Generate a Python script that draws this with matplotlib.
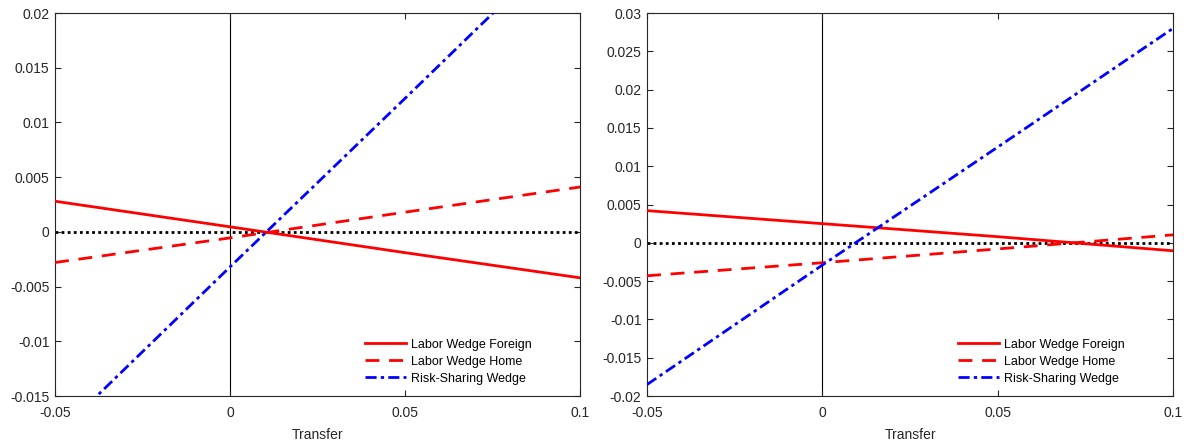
import matplotlib.pyplot as plt
from matplotlib.ticker import FuncFormatter

plt.rcParams['font.family'] = ['Liberation Sans', 'DejaVu Sans']

# transfer grid
transfer = [-0.05, 0.0, 0.05, 0.1]

# left panel
left_foreign = [0.0028, 0.00046, -0.0019, -0.0042]
left_home = [-0.0028, -0.00055, 0.0018, 0.0041]
left_risk = [-0.0187, -0.0032, 0.0122, 0.0277]

# right panel
right_foreign = [0.0042, 0.0025, 0.0008, -0.00104]
right_home = [-0.0043, -0.0026, -0.0008, 0.00104]
right_risk = [-0.0185, -0.0029, 0.0125, 0.028]

panels = [
    (left_foreign, left_home, left_risk, (-0.015, 0.02), 0.005),
    (right_foreign, right_home, right_risk, (-0.02, 0.03), 0.005),
]

fig = plt.figure(figsize=(11.84, 4.41), dpi=100)
axes_pos = [[0.0465, 0.102, 0.4434, 0.8685], [0.5465, 0.102, 0.4443, 0.8685]]

fmt = FuncFormatter(lambda v, p: ('%g' % round(v, 6)))
axcol = '#262626'

for pos, (fo, ho, rs, ylim, step) in zip(axes_pos, panels):
    ax = fig.add_axes(pos)
    ax.axvline(0, color='black', lw=0.8, zorder=1)
    ax.axhline(0, color='black', lw=2, ls=(0, (1, 1.2)), zorder=2)
    ax.plot(transfer, fo, color='red', lw=2, ls='-', label='Labor Wedge Foreign', zorder=3)
    ax.plot(transfer, ho, color='red', lw=2, ls=(0, (5, 3.5)), label='Labor Wedge Home', zorder=3)
    ax.plot(transfer, rs, color='blue', lw=2, ls=(0, (4, 1.5, 1.2, 1.5)), label='Risk-Sharing Wedge', zorder=3)
    ax.set_xlim(-0.05, 0.1)
    ax.set_ylim(*ylim)
    ax.set_xticks([-0.05, 0, 0.05, 0.1])
    n = int(round((ylim[1] - ylim[0]) / step))
    ax.set_yticks([ylim[0] + i * step for i in range(n + 1)])
    ax.xaxis.set_major_formatter(fmt)
    ax.yaxis.set_major_formatter(fmt)
    ax.tick_params(direction='in', top=True, right=True, length=4, width=0.8,
                   color=axcol, labelcolor=axcol, labelsize=10, pad=4)
    ax.tick_params(axis='x', pad=7)
    for s in ax.spines.values():
        s.set_color(axcol)
        s.set_linewidth(0.8)
    ax.set_xlabel('Transfer', fontsize=10, color=axcol, labelpad=6)
    ax.legend(loc='lower right', frameon=False, fontsize=9, handlelength=3.3,
              handletextpad=0.35, labelspacing=0.4, bbox_to_anchor=(0.929, 0.0))

fig.savefig('out.png', dpi=100)
